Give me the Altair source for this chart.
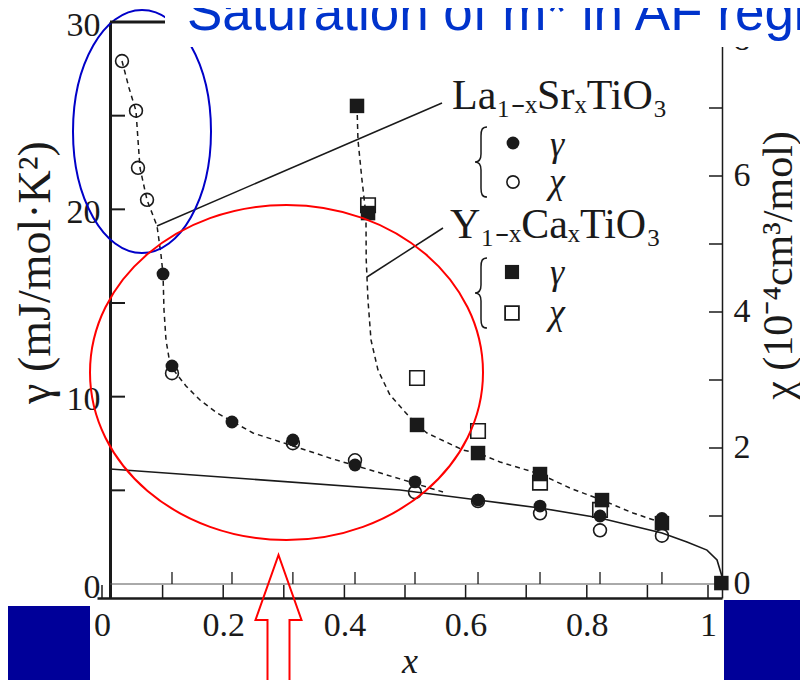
import altair as alt
import pandas as pd

# ---------------- values ----------------
# La(1-x)Sr(x)TiO3 : gamma (filled circles, left axis)
la_gamma_x = [0.1007, 0.1155, 0.2145, 0.3150, 0.4175, 0.5165, 0.6205, 0.7228, 0.8218, 0.9240]
la_gamma_v = [16.55, 11.64, 8.65, 7.69, 6.35, 5.45, 4.48, 4.16, 3.63, 3.50]
# La(1-x)Sr(x)TiO3 : chi (open circles, right axis)
la_chi_x = [0.0330, 0.0561, 0.0594, 0.0743, 0.1155, 0.3150, 0.4175, 0.5165, 0.6205, 0.7228, 0.8218, 0.9240]
la_chi_v = [7.69, 6.96, 6.12, 5.65, 3.10, 2.07, 1.82, 1.35, 1.22, 1.04, 0.79, 0.71]
# Y(1-x)Ca(x)TiO3 : gamma (filled squares, left axis)
y_gamma_x = [0.4208, 0.4390, 0.5198, 0.6205, 0.7228, 0.8251, 0.9240, 1.0220]
y_gamma_v = [25.52, 19.80, 8.49, 6.99, 5.87, 4.48, 3.25, 0.05]
# Y(1-x)Ca(x)TiO3 : chi (open squares, right axis)
y_chi_x = [0.4390, 0.5198, 0.6205, 0.7228, 0.8218]
y_chi_v = [5.57, 3.03, 2.25, 1.49, 1.09]
# dashed guide curve through the La data (gamma units)
la_dash_x = [0.0330, 0.0446, 0.0561, 0.0594, 0.0627, 0.0743, 0.0908, 0.0974, 0.1007, 0.1023,
             0.1056, 0.1106, 0.1205, 0.1386, 0.1617, 0.1898, 0.2492, 0.3152, 0.3812, 0.4538,
             0.4917, 0.5627]
la_dash_v = [27.92, 26.48, 25.25, 23.70, 22.21, 20.50, 19.11, 17.56, 16.55, 14.63,
             13.03, 12.06, 11.32, 10.57, 9.82, 9.13, 8.06, 7.37, 6.67, 5.98,
             5.61, 4.91]
# dashed guide curve through the Y data (gamma units)
y_dash_x = [0.4208, 0.4224, 0.4290, 0.4356, 0.4360, 0.4389, 0.4439, 0.4554, 0.4752, 0.5000,
            0.5198, 0.5363, 0.5957, 0.6205, 0.6568, 0.7228, 0.7723, 0.8251, 0.8762, 0.9158]
y_dash_v = [25.52, 23.70, 21.57, 19.70, 17.30, 15.16, 13.03, 11.42, 10.09, 9.18,
            8.49, 8.06, 7.15, 6.99, 6.51, 5.87, 5.12, 4.48, 3.79, 3.36]
# solid curve (gamma units)
solid_x = [0.0132, 0.4917, 0.6205, 0.7228, 0.8218, 0.9241, 0.9653, 0.9983, 1.0149, 1.0231]
solid_v = [6.14, 5.02, 4.48, 4.06, 3.52, 2.72, 2.24, 1.81, 1.28, 0.40]

# axis values
x_label_vals = [0, 0.2, 0.4, 0.6, 0.8, 1]
x_tick_vals = [0, 0.1, 0.2, 0.3, 0.4, 0.5, 0.6, 0.7, 0.8, 0.9, 1.0]
x_inner_tick_vals = [0.1155, 0.2145, 0.3150, 0.4175, 0.5165, 0.6205, 0.7228, 0.8218, 0.9240]
gamma_label_vals = [0, 10, 20, 30]
gamma_tick_vals = [5, 10, 15, 20, 25]
gamma_zero = [0]
chi_label_vals = [0, 2, 4, 6, 8]
chi_tick_vals = [1, 2, 3, 4, 5, 6, 7]

# texts
title_text = "Saturation of m* in AF region"
la_label = "La₁₋ₓSrₓTiO₃"
y_label = "Y₁₋ₓCaₓTiO₃"
gamma_sym = "γ"
chi_sym = "χ"
gamma_title = "γ (mJ/mol·K²)"
chi_title = "χ (10⁻⁴cm³/mol)"
x_title = "x"

# ---------------- styling ----------------
INK = "#1a1a1a"
SERIF = "Liberation Serif"
X_SCALE = alt.Scale(domain=[-0.00825, 1.0231], nice=False, zero=False)
G_SCALE = alt.Scale(domain=[-0.7473, 30], nice=False, zero=False)
C_SCALE = alt.Scale(domain=[-0.2059, 8.2647], nice=False, zero=False)

one = pd.DataFrame({"k": [0]})


def frame(xs, vs):
    return pd.DataFrame({"x": xs, "v": vs, "i": list(range(len(xs)))})


def vals(vs):
    return pd.DataFrame({"v": vs})


def ellipse_path(rx, ry):
    k = 0.5523
    a, b = rx, ry
    return (f"M {a} 0 C {a} {k*b:.2f} {k*a:.2f} {b} 0 {b} "
            f"C {-k*a:.2f} {b} {-a} {k*b:.2f} {-a} 0 "
            f"C {-a} {-k*b:.2f} {-k*a:.2f} {-b} 0 {-b} "
            f"C {k*a:.2f} {-b} {a} {-k*b:.2f} {a} 0 Z")


BRACE = "M 6 -35 C 1 -35 0 -32 0 -26 L 0 -8 C 0 -3 -2 0 -6 0 C -2 0 0 3 0 8 L 0 26 C 0 32 1 35 6 35"
ARROW = "M -11 90 L -11 0 L -23 0 L 0 -65 L 23 0 L 11 0 L 11 90"

x_axis = alt.Axis(orient="bottom", values=x_label_vals, format=".1~f", ticks=False, grid=False,
                  domainColor=INK, domainWidth=2.5, labelFont=SERIF, labelFontSize=34,
                  labelColor=INK, labelPadding=10, labelFlush=False,
                  title=x_title, titleFont=SERIF, titleFontStyle="italic",
                  titleFontWeight="normal", titleFontSize=36, titleColor=INK, titlePadding=2)
g_axis = alt.Axis(orient="left", values=gamma_label_vals, ticks=False, grid=False, offset=-13,
                  domainColor=INK, domainWidth=3, labelFont=SERIF, labelFontSize=34,
                  labelColor=INK, labelPadding=10, labelFlush=False, labelOffset=3,
                  title=gamma_title, titleFont=SERIF, titleFontSize=46, titleFontWeight="normal",
                  titleColor=INK, titleAngle=270, titleX=-75, titleY=250,
                  titleBaseline="middle", titleAlign="center")
c_axis = alt.Axis(orient="right", values=chi_label_vals, ticks=False, grid=False,
                  domainColor=INK, domainWidth=1.5, labelFont=SERIF, labelFontSize=34,
                  labelColor=INK, labelPadding=11, labelFlush=False,
                  title=chi_title, titleFont=SERIF, titleFontSize=42, titleFontWeight="normal",
                  titleColor=INK, titleAngle=270, titleX=56, titleY=243,
                  titleBaseline="middle", titleAlign="center")


def X(field="x"):
    return alt.X(f"{field}:Q", scale=X_SCALE, axis=x_axis)


def YG(field="v"):
    return alt.Y(f"{field}:Q", scale=G_SCALE, axis=g_axis)


def YC(field="v"):
    return alt.Y(f"{field}:Q", scale=C_SCALE, axis=c_axis)


# ---------------- chi group (right axis) ----------------
chi_ticks = alt.Chart(vals(chi_tick_vals)).mark_rule(color=INK, strokeWidth=1.5).encode(
    y=YC(), x=alt.value(612), x2=alt.value(625))
la_chi = alt.Chart(frame(la_chi_x, la_chi_v)).mark_point(
    shape="circle", filled=True, fill="white", stroke=INK, strokeWidth=1.6, size=165, opacity=1
).encode(x=X(), y=YC())
y_chi = alt.Chart(frame(y_chi_x, y_chi_v)).mark_point(
    shape="square", filled=True, fill="white", stroke=INK, strokeWidth=1.6, size=210, opacity=1
).encode(x=X(), y=YC())
chi_group = alt.layer(chi_ticks, la_chi, y_chi)

# ---------------- gamma group (left axis) + annotations ----------------
zero_line = alt.Chart(vals(gamma_zero)).mark_rule(color="#555555", strokeWidth=1).encode(
    y=YG(), x=alt.value(13), x2=alt.value(625))
g_ticks = alt.Chart(vals(gamma_tick_vals)).mark_rule(color=INK, strokeWidth=2).encode(
    y=YG(), x=alt.value(13), x2=alt.value(28))
x_ticks = alt.Chart(vals(x_tick_vals)).mark_rule(color=INK, strokeWidth=1.5).encode(
    x=X("v"), y=alt.value(563), y2=alt.value(576))
x_inner = alt.Chart(vals(x_inner_tick_vals)).mark_rule(color=INK, strokeWidth=1.3).encode(
    x=X("v"), y=alt.value(550), y2=alt.value(562))

solid = alt.Chart(frame(solid_x, solid_v)).mark_line(color=INK, strokeWidth=1.6).encode(
    x=X(), y=YG(), order="i:Q")
la_dash = alt.Chart(frame(la_dash_x, la_dash_v)).mark_line(
    color=INK, strokeWidth=1.5, strokeDash=[5, 4]).encode(x=X(), y=YG(), order="i:Q")
y_dash = alt.Chart(frame(y_dash_x, y_dash_v)).mark_line(
    color=INK, strokeWidth=1.5, strokeDash=[5, 4]).encode(x=X(), y=YG(), order="i:Q")
la_gamma = alt.Chart(frame(la_gamma_x, la_gamma_v)).mark_point(
    shape="circle", filled=True, color=INK, size=165, opacity=1).encode(x=X(), y=YG())
y_gamma = alt.Chart(frame(y_gamma_x, y_gamma_v)).mark_point(
    shape="square", filled=True, color=INK, size=210, opacity=1).encode(x=X(), y=YG())


def rule(x1, y1, x2, y2, color=INK, width=1.5):
    return alt.Chart(one).mark_rule(color=color, strokeWidth=width).encode(
        x=alt.value(x1), y=alt.value(y1), x2=alt.value(x2), y2=alt.value(y2))


def text(t, x, y, size, font=SERIF, style="normal", align="center", baseline="middle", color=INK):
    return alt.Chart(one).mark_text(font=font, fontSize=size, fontStyle=style, align=align,
                                    baseline=baseline, color=color).encode(
        x=alt.value(x), y=alt.value(y), text=alt.value(t))


def symbol(shape, x, y, size=4, fill=None, stroke=INK, width=1.5):
    props = dict(shape=shape, size=size, stroke=stroke, strokeWidth=width, opacity=1)
    if fill is None:
        props.update(filled=False, fillOpacity=0)
    else:
        props.update(filled=True, fill=fill)
    return alt.Chart(one).mark_point(**props).encode(x=alt.value(x), y=alt.value(y))


annotations = [
    rule(345, 81, 60, 204),
    rule(346, 206, 270, 255),
    text(la_label, 355, 87, 42, align="left", baseline="alphabetic"),
    text(y_label, 353, 216, 42, align="left", baseline="alphabetic"),
    symbol(BRACE, 384, 140),
    symbol(BRACE, 384, 271),
    alt.Chart(one).mark_point(shape="circle", filled=True, color=INK, size=165, opacity=1).encode(
        x=alt.value(416), y=alt.value(121)),
    symbol("circle", 416, 160, size=150, fill="white", width=1.6),
    alt.Chart(one).mark_point(shape="square", filled=True, color=INK, size=200, opacity=1).encode(
        x=alt.value(415), y=alt.value(250)),
    symbol("square", 415, 291, size=190, fill="white", width=1.8),
    text(gamma_sym, 460, 123, 36, style="italic"),
    text(chi_sym, 460, 160, 36, style="italic"),
    text(gamma_sym, 460, 251, 36, style="italic"),
    text(chi_sym, 460, 291, 36, style="italic"),
    symbol(ellipse_path(69, 121.5), 45, 109.5, stroke="#0000C8", width=2),
    symbol(ellipse_path(196.5, 167.5), 189.5, 350.5, stroke="#FF0000", width=2),
    symbol(ARROW, 181.5, 598, stroke="#FF0000", width=2),
    alt.Chart(one).mark_rect(color="#000099").encode(
        x=alt.value(-95), x2=alt.value(-7), y=alt.value(584), y2=alt.value(680)),
    alt.Chart(one).mark_rect(color="#000099").encode(
        x=alt.value(627), x2=alt.value(720), y=alt.value(578), y2=alt.value(680)),
    rule(13, 0, 120, 0, width=3),
    alt.Chart(one).mark_rect(color="white").encode(
        x=alt.value(68), x2=alt.value(720), y=alt.value(-30), y2=alt.value(25)),
    text(title_text, 90, 8, 53, font="Liberation Sans", align="left", baseline="alphabetic",
         color="#0033CC"),
]

gamma_group = alt.layer(zero_line, g_ticks, x_ticks, x_inner, solid, la_dash, y_dash,
                        la_gamma, y_gamma, *annotations)

chart = alt.layer(chi_group, gamma_group).resolve_scale(y="independent").properties(
    width=625, height=576,
    autosize=alt.AutoSizeParams(type="none"),
    padding={"left": 89, "top": 14, "right": 78, "bottom": 82},
    background="white",
).configure_view(stroke="transparent")

chart.save("out.html", embed_options={"renderer": "svg", "actions": False})
